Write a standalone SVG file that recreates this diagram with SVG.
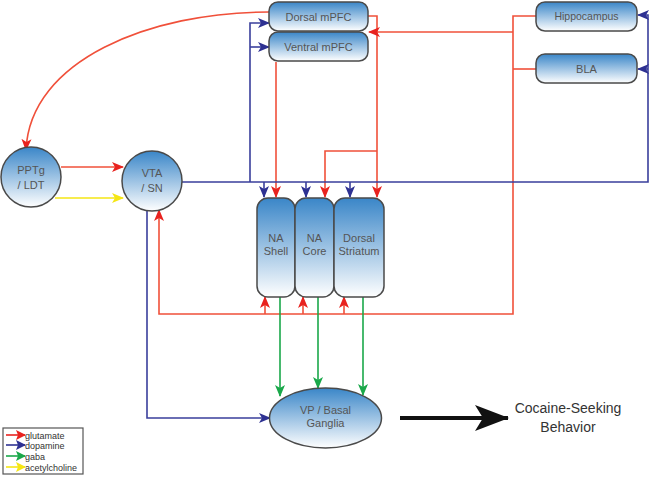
<svg xmlns="http://www.w3.org/2000/svg" width="651" height="477" viewBox="0 0 651 477">
<defs>
<linearGradient id="g" x1="0" y1="0" x2="0" y2="1">
<stop offset="0" stop-color="#3a86c8"/>
<stop offset="1" stop-color="#ffffff"/>
</linearGradient>
<marker id="mr" markerUnits="userSpaceOnUse" markerWidth="12" markerHeight="12" viewBox="0 0 12 12" refX="11" refY="6" orient="auto"><path d="M0,1 L12,6 L0,11 L3,6 z" fill="#e8231f"/></marker>
<marker id="mb" markerUnits="userSpaceOnUse" markerWidth="12" markerHeight="12" viewBox="0 0 12 12" refX="11" refY="6" orient="auto"><path d="M0,1 L12,6 L0,11 L3,6 z" fill="#2e3192"/></marker>
<marker id="mg" markerUnits="userSpaceOnUse" markerWidth="12" markerHeight="12" viewBox="0 0 12 12" refX="11" refY="6" orient="auto"><path d="M0,1 L12,6 L0,11 L3,6 z" fill="#1aa84a"/></marker>
<marker id="my" markerUnits="userSpaceOnUse" markerWidth="12" markerHeight="12" viewBox="0 0 12 12" refX="11" refY="6" orient="auto"><path d="M0,1 L12,6 L0,11 L3,6 z" fill="#f5e614"/></marker>
<marker id="mk" markerUnits="userSpaceOnUse" markerWidth="34" markerHeight="28" viewBox="0 0 34 28" refX="33" refY="14" orient="auto"><path d="M0,1 L34,14 L0,27 L8,14 z" fill="#111"/></marker>
<marker id="lr" markerUnits="userSpaceOnUse" markerWidth="10" markerHeight="10" viewBox="0 0 10 10" refX="9" refY="5" orient="auto"><path d="M0,0 L10,5 L0,10 L2,5 z" fill="#e8231f"/></marker>
<marker id="lb" markerUnits="userSpaceOnUse" markerWidth="10" markerHeight="10" viewBox="0 0 10 10" refX="9" refY="5" orient="auto"><path d="M0,0 L10,5 L0,10 L2,5 z" fill="#2e3192"/></marker>
<marker id="lg" markerUnits="userSpaceOnUse" markerWidth="10" markerHeight="10" viewBox="0 0 10 10" refX="9" refY="5" orient="auto"><path d="M0,0 L10,5 L0,10 L2,5 z" fill="#1aa84a"/></marker>
<marker id="ly" markerUnits="userSpaceOnUse" markerWidth="10" markerHeight="10" viewBox="0 0 10 10" refX="9" refY="5" orient="auto"><path d="M0,0 L10,5 L0,10 L2,5 z" fill="#f5e614"/></marker>
</defs>
<style>
.n{fill:url(#g);stroke:#4a4a4a;stroke-width:1.5}
.t{font-family:"Liberation Sans",Arial,sans-serif;font-size:11px;fill:#555;text-anchor:middle}
.r{stroke:#f0503a;stroke-width:1.6;fill:none}
.b{stroke:#3a3f9c;stroke-width:1.6;fill:none}
.gr{stroke:#1aa84a;stroke-width:1.6;fill:none}
.y{stroke:#f5e614;stroke-width:1.6;fill:none}
.lt{font-family:"Liberation Sans",Arial,sans-serif;font-size:9px;fill:#333}
</style>
<rect width="651" height="477" fill="#fff"/>

<g id="connectors">
<!-- red -->
<path class="r" d="M269,12 C150,12 30,60 26,150" marker-end="url(#mr)"/>
<path class="r" d="M61,167 L123,167" marker-end="url(#mr)"/>
<path class="y" d="M55,198 L123,198" marker-end="url(#my)"/>
<path class="r" d="M276,62 L276,197" marker-end="url(#mr)"/>
<path class="r" d="M368,16 L377,16 L377,197" marker-end="url(#mr)"/>
<path class="r" d="M377,151 L325,151 L325,197" marker-end="url(#mr)"/>
<path class="r" d="M536,16 L513,16 L513,314 L159,314 L159,210" marker-end="url(#mr)"/>
<path class="r" d="M536,69 L513,69"/>
<path class="r" d="M513,32 L369,32" marker-end="url(#mr)"/>
<path class="r" d="M265,314 L265,297" marker-end="url(#mr)"/>
<path class="r" d="M303,314 L303,297" marker-end="url(#mr)"/>
<path class="r" d="M344,314 L344,297" marker-end="url(#mr)"/>
<!-- blue -->
<path class="b" d="M182,182 L648,182 L648,15 L638,15" marker-end="url(#mb)"/>
<path class="b" d="M648,69 L638,69" marker-end="url(#mb)"/>
<path class="b" d="M250,182 L250,23 L269,23" marker-end="url(#mb)"/>
<path class="b" d="M250,47 L269,47" marker-end="url(#mb)"/>
<path class="b" d="M264,182 L264,197" marker-end="url(#mb)"/>
<path class="b" d="M306,182 L306,197" marker-end="url(#mb)"/>
<path class="b" d="M350,182 L350,197" marker-end="url(#mb)"/>
<path class="b" d="M147,210 L147,418 L270,418" marker-end="url(#mb)"/>
<!-- green -->
<path class="gr" d="M280,297 L280,396" marker-end="url(#mg)"/>
<path class="gr" d="M318,297 L318,388" marker-end="url(#mg)"/>
<path class="gr" d="M363,297 L363,395" marker-end="url(#mg)"/>
<!-- output -->
<path d="M400,418 L508,418" stroke="#111" stroke-width="4" fill="none" marker-end="url(#mk)"/>
</g>

<g id="dorsal-mpfc"><rect class="n" x="269" y="2" width="99" height="29" rx="9"/><text class="t" x="318.5" y="20.5">Dorsal mPFC</text></g>
<g id="ventral-mpfc"><rect class="n" x="269" y="32" width="99" height="29" rx="9"/><text class="t" x="318.5" y="50.5">Ventral mPFC</text></g>
<g id="hippocampus"><rect class="n" x="536" y="2" width="101" height="29" rx="9"/><text class="t" x="586.5" y="20" style="font-size:10.5px">Hippocampus</text></g>
<g id="bla"><rect class="n" x="536" y="54" width="101" height="29" rx="9"/><text class="t" x="586.5" y="72.5">BLA</text></g>
<g id="pptg"><circle class="n" cx="31" cy="177" r="30"/><text class="t" x="31" y="174">PPTg</text><text class="t" x="31" y="189">/ LDT</text></g>
<g id="vta"><circle class="n" cx="152" cy="181" r="30"/><text class="t" x="152" y="177">VTA</text><text class="t" x="152" y="192">/ SN</text></g>
<g id="na-shell"><rect class="n" x="257" y="198" width="38" height="99" rx="11"/><text class="t" x="276" y="242">NA</text><text class="t" x="276" y="255">Shell</text></g>
<g id="na-core"><rect class="n" x="295" y="198" width="39" height="99" rx="11"/><text class="t" x="314.5" y="242">NA</text><text class="t" x="314.5" y="255">Core</text></g>
<g id="dorsal-striatum"><rect class="n" x="334" y="198" width="50" height="99" rx="11"/><text class="t" x="359" y="242">Dorsal</text><text class="t" x="359" y="255">Striatum</text></g>
<g id="vp"><ellipse class="n" cx="325.5" cy="418" rx="56" ry="30"/><text class="t" x="325.5" y="414">VP / Basal</text><text class="t" x="325.5" y="427">Ganglia</text></g>
<g id="behavior"><text class="t" x="568" y="413" style="font-size:14px;fill:#333">Cocaine-Seeking</text><text class="t" x="568" y="432" style="font-size:14px;fill:#333">Behavior</text></g>

<g id="legend">
<rect x="3" y="428" width="80" height="46" fill="#fff" stroke="#555" stroke-width="1.2"/>
<path d="M6,435 L25,435" stroke="#e8231f" stroke-width="1.6" marker-end="url(#lr)"/>
<path d="M6,445 L25,445" stroke="#2e3192" stroke-width="1.6" marker-end="url(#lb)"/>
<path d="M6,456 L25,456" stroke="#1aa84a" stroke-width="1.6" marker-end="url(#lg)"/>
<path d="M6,467 L25,467" stroke="#f5e614" stroke-width="1.6" marker-end="url(#ly)"/>
<text class="lt" x="25" y="438.5">glutamate</text>
<text class="lt" x="25" y="448.5">dopamine</text>
<text class="lt" x="25" y="459.5">gaba</text>
<text class="lt" x="25" y="470.5">acetylcholine</text>
</g>
</svg>
